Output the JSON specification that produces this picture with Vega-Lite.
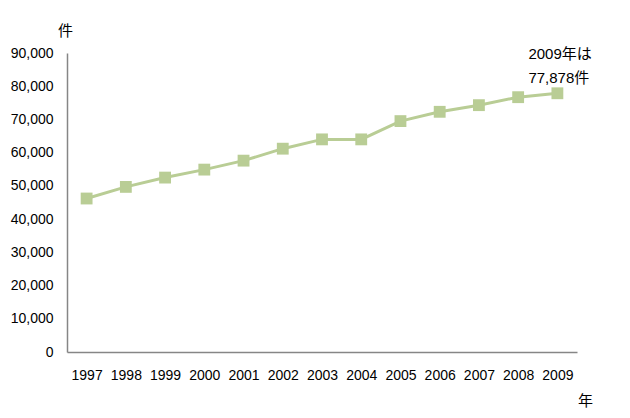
{
  "$schema": "https://vega.github.io/schema/vega-lite/v6.json",
  "width": 510,
  "height": 299,
  "autosize": {"type": "none"},
  "padding": {"left": 67, "top": 53, "right": 53, "bottom": 66},
  "background": "white",
  "config": {
    "view": {"stroke": null},
    "font": "Liberation Sans, Noto Sans CJK JP",
    "axis": {"labelFont": "Liberation Sans, Noto Sans CJK JP", "titleFont": "Noto Sans CJK JP", "labelColor": "#000000", "titleColor": "#000000", "labelFontSize": 14, "titleFontSize": 15, "titleFontWeight": "normal", "domainColor": "#868686", "domainWidth": 1.5, "ticks": false, "grid": false, "labelOverlap": false}
  },
  "datasets": {
    "main": [
      {"year": "1997", "value": 46200},
      {"year": "1998", "value": 49700},
      {"year": "1999", "value": 52500},
      {"year": "2000", "value": 54900},
      {"year": "2001", "value": 57600},
      {"year": "2002", "value": 61200},
      {"year": "2003", "value": 64000},
      {"year": "2004", "value": 64000},
      {"year": "2005", "value": 69500},
      {"year": "2006", "value": 72300},
      {"year": "2007", "value": 74300},
      {"year": "2008", "value": 76700},
      {"year": "2009", "value": 77878}
    ],
    "note": [
      {"year": "2009", "value": 77878, "label": ["2009年は", "77,878件"]}
    ]
  },
  "encoding": {
    "x": {"field": "year", "type": "ordinal", "scale": {"paddingInner": 0, "paddingOuter": 0.5},
      "axis": {"title": "年", "labelAngle": 0, "labelPadding": 16, "titleX": 518, "titleY": 48, "titleAlign": "center", "titleBaseline": "middle"}},
    "y": {"field": "value", "type": "quantitative", "scale": {"domain": [0, 90000]},
      "axis": {"title": "件", "tickCount": 20, "values": [0, 10000, 20000, 30000, 40000, 50000, 60000, 70000, 80000, 90000], "format": ",.0f", "labelPadding": 14, "titleAngle": 0, "titleX": -2, "titleY": -23, "titleAlign": "center", "titleBaseline": "middle"}}
  },
  "layer": [
    {
      "data": {"name": "main"},
      "mark": {"type": "line", "color": "#b9cd95", "strokeWidth": 3}
    },
    {
      "data": {"name": "main"},
      "mark": {"type": "square", "color": "#b9cd95", "opacity": 1, "size": 140, "filled": true}
    },
    {
      "data": {"name": "note"},
      "mark": {"type": "text", "align": "left", "baseline": "middle", "dx": -29, "dy": -39, "fontSize": 15, "lineHeight": 24, "color": "#000000"},
      "encoding": {
        "text": {"field": "label"}
      }
    }
  ]
}
